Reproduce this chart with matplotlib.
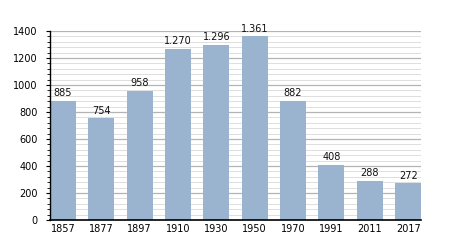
import matplotlib
matplotlib.use("Agg")
import matplotlib.pyplot as plt
from matplotlib.ticker import MultipleLocator

years = ["1857", "1877", "1897", "1910", "1930", "1950", "1970", "1991", "2011", "2017"]
population = [885, 754, 958, 1270, 1296, 1361, 882, 408, 288, 272]


def _fmt(v):
    return f"{v:,}".replace(",", ".")


fig = plt.figure(figsize=(4.5, 2.5), dpi=100)
ax = fig.add_axes([0.111, 0.12, 0.825, 0.756])

x = list(range(len(years)))
ax.bar(x, population, width=0.68, color="#9ab3cf", zorder=3)
for xi, v in zip(x, population):
    ax.text(xi, v + 20, _fmt(v), ha="center", va="bottom", fontsize=7, color="#111111")

ax.set_xlim(-0.34, len(years) - 1 + 0.34)
ax.set_ylim(0, 1400)
ax.set_xticks(x)
ax.set_xticklabels(years)
ax.yaxis.set_major_locator(MultipleLocator(200))
ax.yaxis.set_minor_locator(MultipleLocator(40))
ax.grid(which="major", axis="y", color="#b4b4b4", linewidth=0.9, zorder=0)
ax.grid(which="minor", axis="y", color="#dedede", linewidth=0.7, zorder=0)

for side in ("top", "right"):
    ax.spines[side].set_visible(False)
ax.spines["left"].set_linewidth(1.0)
ax.spines["bottom"].set_linewidth(1.2)
for side in ("left", "bottom"):
    ax.spines[side].set_zorder(4)
ax.tick_params(axis="y", which="major", length=3, width=0.8, labelsize=7, pad=6)
ax.tick_params(axis="y", which="minor", length=2, width=0.6)
ax.tick_params(axis="x", length=0, labelsize=7, pad=3)

fig.savefig("out.png", dpi=100)
